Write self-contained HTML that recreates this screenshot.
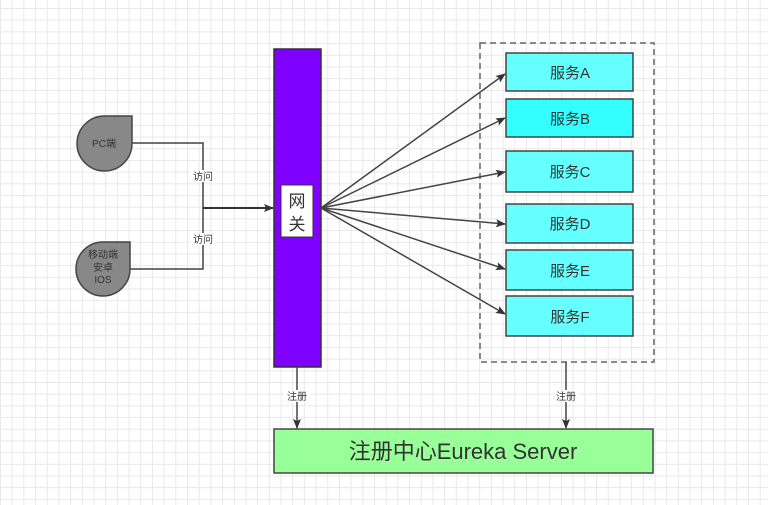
<!DOCTYPE html>
<html><head><meta charset="utf-8"><style>
body{margin:0;width:768px;height:505px;overflow:hidden;background:#fff;
background-image:linear-gradient(#e8e8e8 1px,transparent 1px),linear-gradient(90deg,#e8e8e8 1px,transparent 1px);
background-size:11.7px 11.7px;background-position:0px 8px;}
svg{position:absolute;left:0;top:0}
text{font-family:"Liberation Sans","Noto Sans CJK SC",sans-serif}
</style></head><body>
<svg width="768" height="505" viewBox="0 0 768 505">
<defs><marker id="a" markerWidth="10" markerHeight="8" refX="9" refY="4" orient="auto" markerUnits="userSpaceOnUse"><path d="M0,0 L10,4 L0,8 L2,4z" fill="#333"/></marker></defs>
<rect x="480" y="43" width="174" height="319" fill="none" stroke="#666" stroke-width="1.5" stroke-dasharray="6,4"/>
<!-- clients -->
<path d="M132,116 V143 A27.5,27.5 0 1 1 104.5,116 Z" fill="#888" stroke="#444" stroke-width="1.5"/>
<path d="M130,242 V269 A27,27 0 1 1 103,242 Z" fill="#888" stroke="#444" stroke-width="1.5"/>
<text x="104" y="147" font-size="10" fill="#333" text-anchor="middle">PC端</text>
<text x="103" y="258" font-size="10" fill="#333" text-anchor="middle">移动端</text>
<text x="103" y="271" font-size="10" fill="#333" text-anchor="middle">安卓</text>
<text x="103" y="283" font-size="10" fill="#333" text-anchor="middle">IOS</text>
<path d="M132,143 H203 V208 M130,269 H203 V208" fill="none" stroke="#444" stroke-width="1.5"/>
<rect x="190" y="170" width="26" height="12" fill="#fff"/><text x="203" y="180" font-size="10" fill="#333" text-anchor="middle">访问</text>
<rect x="190" y="233" width="26" height="12" fill="#fff"/><text x="203" y="243" font-size="10" fill="#333" text-anchor="middle">访问</text>
<line x1="203" y1="208" x2="273" y2="208" stroke="#333" stroke-width="2" marker-end="url(#a)"/>
<!-- gateway -->
<rect x="274" y="49" width="47" height="318" fill="#7f00ff" stroke="#333" stroke-width="1.5"/>
<rect x="281" y="185" width="32" height="52" fill="#fff" stroke="#333"/>
<text x="297" y="207" font-size="17" fill="#333" text-anchor="middle">网</text>
<text x="297" y="230" font-size="17" fill="#333" text-anchor="middle">关</text>
<g stroke="#444" stroke-width="1.5" marker-end="url(#a)">
<line x1="321" y1="208" x2="505" y2="74"/>
<line x1="321" y1="208" x2="505" y2="118"/>
<line x1="321" y1="208" x2="505" y2="172"/>
<line x1="321" y1="208" x2="505" y2="224"/>
<line x1="321" y1="208" x2="505" y2="269"/>
<line x1="321" y1="208" x2="505" y2="314"/>
</g>
<g stroke="#444" stroke-width="1.5" font-size="15">
<rect x="506" y="53" width="127" height="38" fill="#66ffff"/>
<rect x="506" y="99" width="127" height="38" fill="#33ffff"/>
<rect x="506" y="151" width="127" height="41" fill="#66ffff"/>
<rect x="506" y="204" width="127" height="39" fill="#66ffff"/>
<rect x="506" y="250" width="127" height="40" fill="#66ffff"/>
<rect x="506" y="296" width="127" height="40" fill="#66ffff"/>
</g>
<g font-size="15" fill="#333" text-anchor="middle">
<text x="570" y="78">服务A</text><text x="570" y="124">服务B</text><text x="570" y="177">服务C</text>
<text x="570" y="229">服务D</text><text x="570" y="276">服务E</text><text x="570" y="322">服务F</text>
</g>
<line x1="297" y1="367" x2="297" y2="428" stroke="#444" stroke-width="1.5" marker-end="url(#a)"/>
<line x1="566" y1="362" x2="566" y2="428" stroke="#444" stroke-width="1.5" marker-end="url(#a)"/>
<rect x="284" y="390" width="26" height="12" fill="#fff"/><text x="297" y="400" font-size="10" fill="#333" text-anchor="middle">注册</text>
<rect x="553" y="390" width="26" height="12" fill="#fff"/><text x="566" y="400" font-size="10" fill="#333" text-anchor="middle">注册</text>
<rect x="274" y="429" width="379" height="44" fill="#99ff99" stroke="#444" stroke-width="1.5"/>
<text x="463" y="459" font-size="22" fill="#333" text-anchor="middle">注册中心Eureka Server</text>
</svg>
</body></html>
